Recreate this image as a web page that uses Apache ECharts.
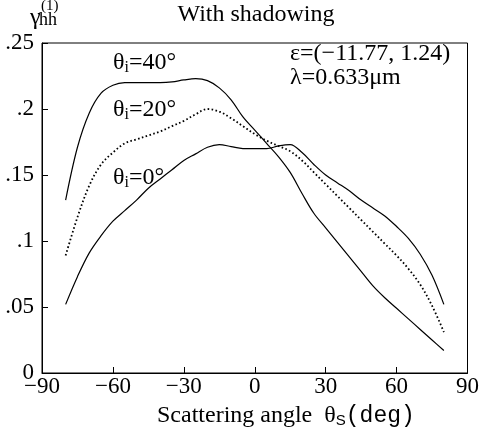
<!DOCTYPE html>
<html><head><meta charset="utf-8">
<script src="https://cdn.jsdelivr.net/npm/echarts@6/dist/echarts.min.js"></script>
<style>html,body{margin:0;padding:0;background:#fff}#c{width:482px;height:438px}</style>
</head><body><div id="c"></div>
<script>
const angles = [-80,-75,-70,-65,-60,-55,-50,-45,-40,-35,-30,-25,-20,-15,-10,-5,0,5,10,15,20,25,30,35,40,45,50,55,60,65,70,75,80];
const theta40 = [0.131,0.171,0.197,0.212,0.218,0.220,0.220,0.220,0.220,0.2205,0.222,0.223,0.2215,0.216,0.207,0.194,0.184,0.174,0.164,0.152,0.136,0.121,0.110,0.099,0.088,0.077,0.066,0.057,0.049,0.041,0.033,0.025,0.017];
const theta20 = [0.089,0.118,0.142,0.158,0.167,0.174,0.177,0.180,0.183,0.187,0.191,0.196,0.200,0.198,0.193,0.187,0.181,0.176,0.172,0.168,0.161,0.152,0.143,0.134,0.125,0.116,0.107,0.098,0.089,0.079,0.067,0.051,0.031];
const theta0 = [0.052,0.073,0.091,0.104,0.115,0.123,0.131,0.140,0.147,0.154,0.161,0.166,0.171,0.173,0.1715,0.170,0.170,0.170,0.172,0.173,0.167,0.158,0.150,0.144,0.138,0.131,0.125,0.119,0.111,0.102,0.090,0.074,0.052];
const xTicks = [-90,-60,-30,0,30,60,90];
const yTicks = [0,0.05,0.1,0.15,0.2,0.25];

const F = '"Liberation Serif", "Times New Roman", serif';
const pair = a => angles.map((x,i)=>[x,a[i]]);
const chart = echarts.init(document.getElementById('c'));
const lineBase = {type:'line', smooth:0.35, symbol:'none', silent:true};
const lab = t => ({text:'{a|θ}{b|i}{a|='+t+'°}',rich:{a:{font:'24px '+F,fill:'#000'},b:{font:'16px '+F,fill:'#000',padding:[10,0,0,0]}}});
chart.setOption({
  animation:false,
  grid:{left:42,right:12,top:43,bottom:65,show:true,borderColor:'#000',borderWidth:1,backgroundColor:'transparent'},
  xAxis:{type:'value',min:-90,max:90,interval:30,
    axisLine:{onZero:false,lineStyle:{color:'#000',width:1}},
    axisTick:{inside:true,length:6,lineStyle:{color:'#000'}},
    splitLine:{show:false},
    axisLabel:{color:'#000',fontFamily:F,fontSize:23,margin:2,
      formatter:v=>xTicks.includes(v)?String(v).replace('-','\u2212'):''}},
  yAxis:{type:'value',min:0,max:0.25,interval:0.05,
    axisLine:{show:true,onZero:false,lineStyle:{color:'#000',width:1}},
    axisTick:{inside:true,length:6,lineStyle:{color:'#000'}},
    splitLine:{show:false},
    axisLabel:{color:'#000',fontFamily:F,fontSize:23,margin:8,
      formatter:v=>{const t=yTicks.find(y=>Math.abs(y-v)<1e-9); if(t===undefined) return ''; return t===0?'0':String(+t.toFixed(2)).replace(/^0\./,'.');}}},
  series:[
    Object.assign({},lineBase,{name:'40',data:pair(theta40),lineStyle:{color:'#000',width:1.2}}),
    Object.assign({},lineBase,{name:'20',data:pair(theta20),lineStyle:{color:'#000',width:1.8,type:[1.6,2.4]}}),
    Object.assign({},lineBase,{name:'0',data:pair(theta0),lineStyle:{color:'#000',width:1.2}})
  ],
  graphic:[
    {type:'text',x:256,y:3,style:{text:'With shadowing',font:'24px '+F,fill:'#000',align:'center'}},
    {type:'text',x:30,y:6,style:{text:'γ',font:'24px '+F,fill:'#000'}},
    {type:'text',x:39,y:11,style:{text:'hh',font:'18px '+F,fill:'#000'}},
    {type:'text',x:41,y:-1,style:{text:'(1)',font:'15px '+F,fill:'#000'}},
    {type:'text',x:113,y:50,style:lab('40')},
    {type:'text',x:113,y:97,style:lab('20')},
    {type:'text',x:113,y:165,style:lab('0')},
    {type:'text',x:290,y:42,style:{text:'ε=(−11.77, 1.24)',font:'24px '+F,fill:'#000'}},
    {type:'text',x:290,y:66,style:{text:'λ=0.633μm',font:'24px '+F,fill:'#000'}},
    {type:'text',x:157,y:403,style:{text:'{a|Scattering angle  θ}{b|S}{c|(deg)}',rich:{
      a:{font:'24px '+F,fill:'#000'},b:{font:'15px "Liberation Sans", sans-serif',fill:'#000',padding:[10,0,0,0]},
      c:{font:'23px "Liberation Mono", monospace',fill:'#000'}}}}
  ]
});
</script></body></html>
